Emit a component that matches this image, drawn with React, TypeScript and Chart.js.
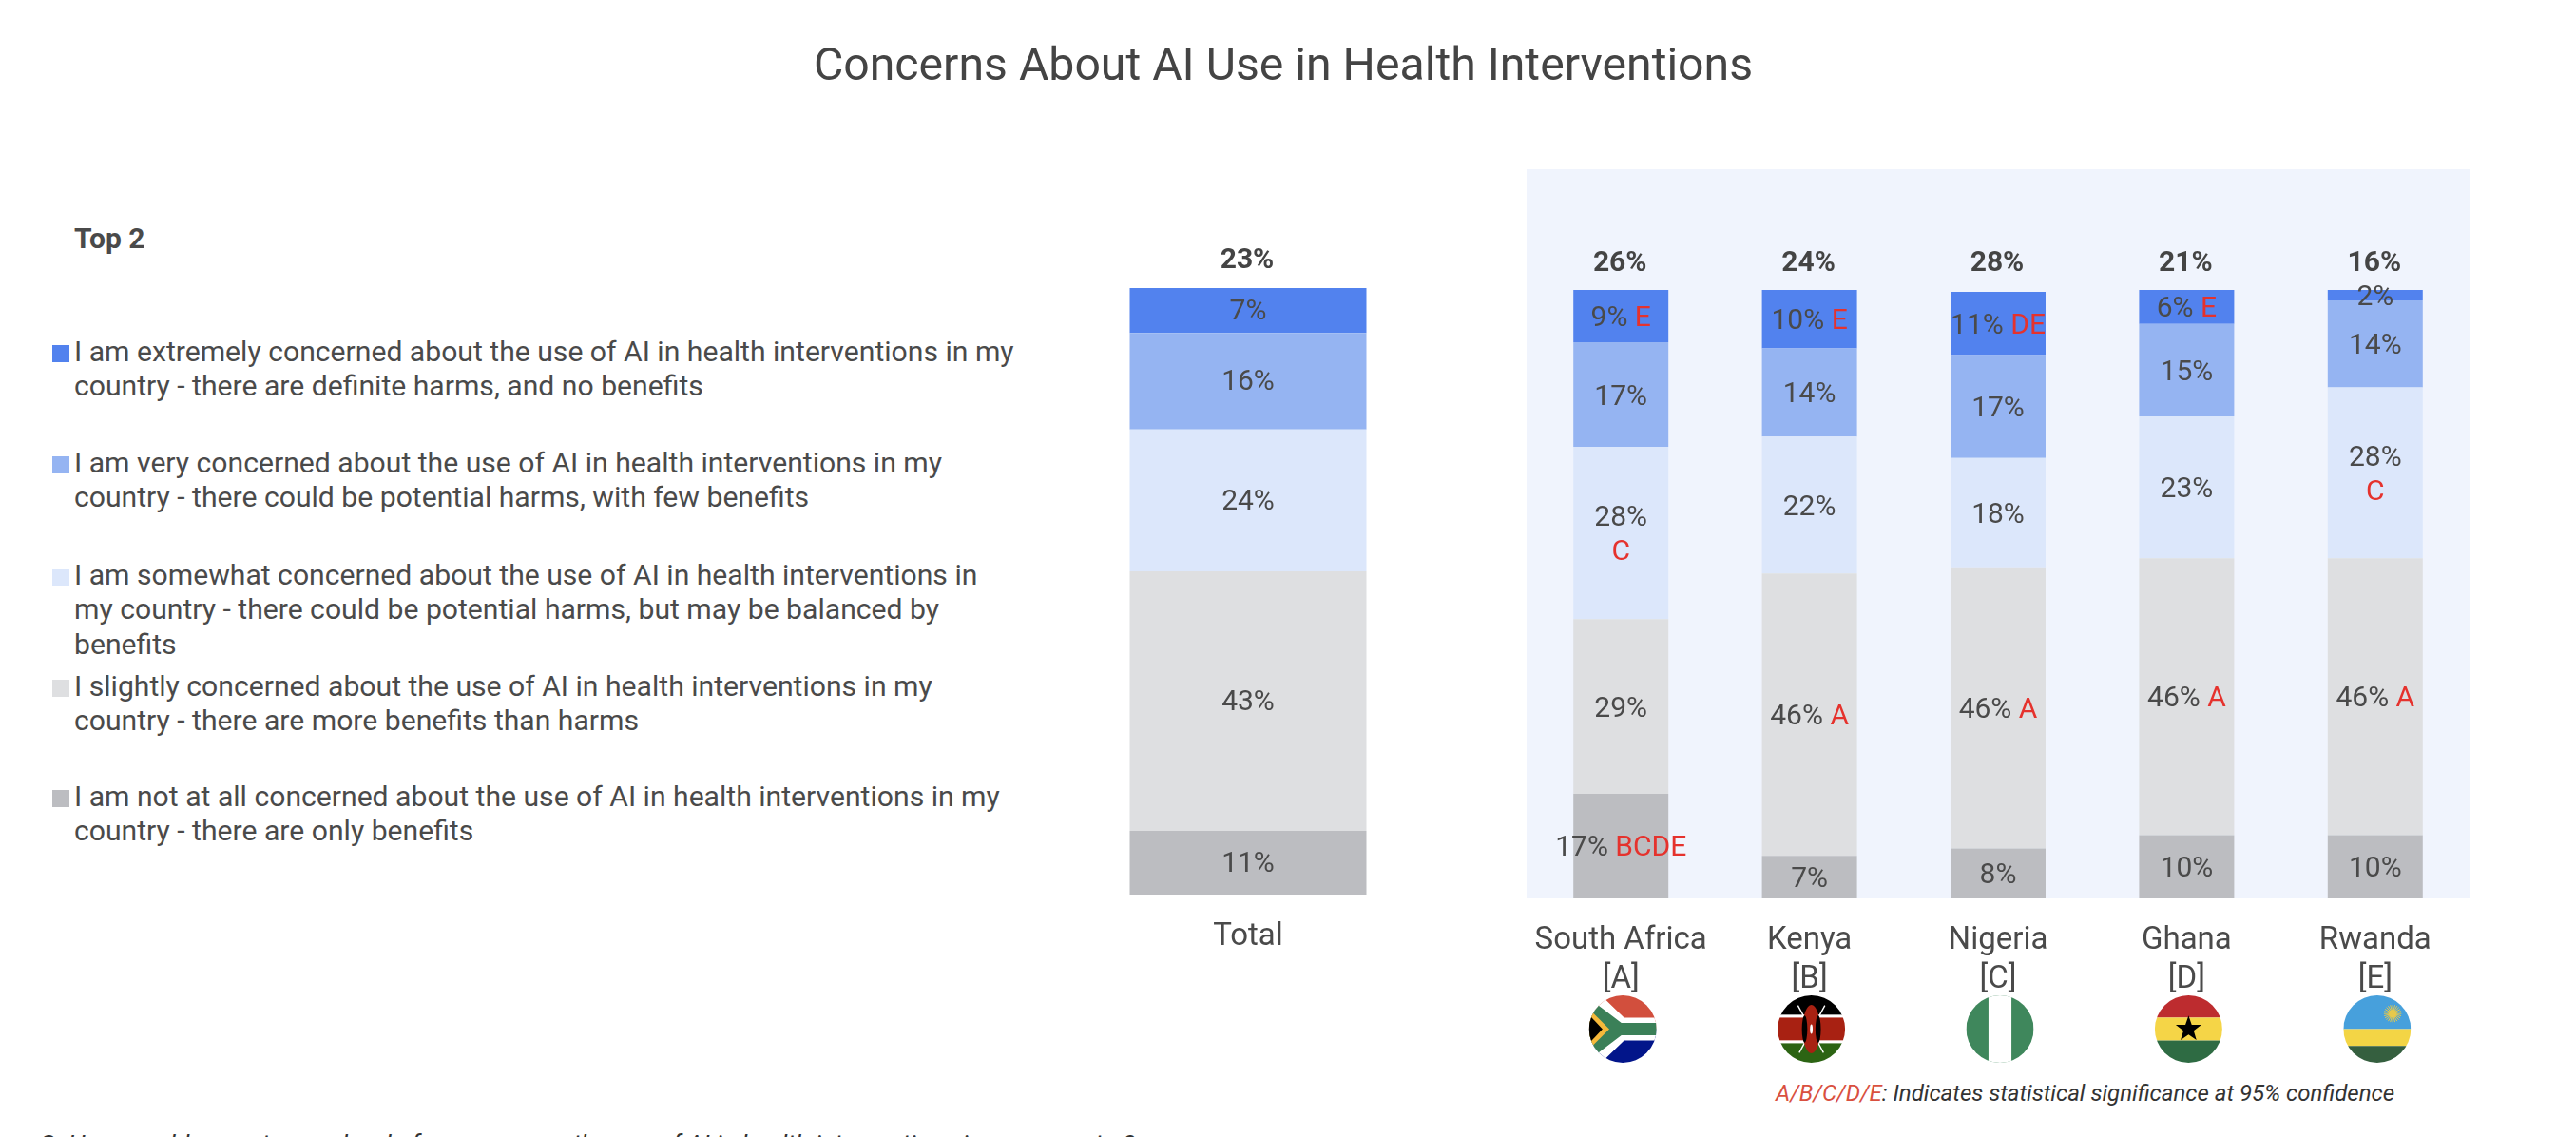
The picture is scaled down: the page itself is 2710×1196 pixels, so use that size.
import React, { useEffect, useRef } from "react";
import { Chart, registerables } from "chart.js";

Chart.register(...registerables);

const FONT = "Roboto, sans-serif";
const INK = "#4a4a4a";
const RED = "#e5322d";

const seriesColors = ["#bcbdc1", "#dedfe1", "#dce7fb", "#95b4f2", "#5282ee"];

// Series run bottom to top of the stack.
const seriesNames = ["Not at all", "Slightly", "Somewhat", "Very", "Extremely"];

const totalLabel = ["Total"];
const totalNotAtAll = [10.5];
const totalSlightly = [42.8];
const totalSomewhat = [23.4];
const totalVery = [15.9];
const totalExtremely = [7.4];
const totalPercentLabels = [["11%"], ["43%"], ["24%"], ["16%"], ["7%"]];
const totalTop2 = ["23%"];

const countries = [
  ["South Africa", "[A]"],
  ["Kenya", "[B]"],
  ["Nigeria", "[C]"],
  ["Ghana", "[D]"],
  ["Rwanda", "[E]"],
];
const notAtAll = [17.2, 7.0, 8.2, 10.4, 10.4];
const slightly = [28.7, 46.4, 46.2, 45.5, 45.5];
const somewhat = [28.3, 22.5, 18.0, 23.3, 28.1];
const very = [17.2, 14.5, 16.9, 15.2, 14.3];
const extremely = [8.6, 9.6, 10.4, 5.6, 1.7];

const notAtAllLabels = ["17%", "7%", "8%", "10%", "10%"];
const slightlyLabels = ["29%", "46%", "46%", "46%", "46%"];
const somewhatLabels = ["28%", "22%", "18%", "23%", "28%"];
const veryLabels = ["17%", "14%", "17%", "15%", "14%"];
const extremelyLabels = ["9%", "10%", "11%", "6%", "2%"];

const notAtAllSig = ["BCDE", "", "", "", ""];
const slightlySig = ["", "A", "A", "A", "A"];
const somewhatSig = ["C", "", "", "", "C"];
const verySig = ["", "", "", "", ""];
const extremelySig = ["E", "E", "DE", "E", ""];

const countryTop2 = ["26%", "24%", "28%", "21%", "16%"];

const title = "Concerns About AI Use in Health Interventions";
const legendHeading = "Top 2";
const legendLines = [
  ["I am extremely concerned about the use of AI in health interventions in my", "country - there are definite harms, and no benefits"],
  ["I am very concerned about the use of AI in health interventions in my", "country - there could be potential harms, with few benefits"],
  ["I am somewhat concerned about the use of AI in health interventions in", "my country - there could be potential harms, but may be balanced by", "benefits"],
  ["I slightly concerned about the use of AI in health interventions in my", "country - there are more benefits than harms"],
  ["I am not at all concerned about the use of AI in health interventions in my", "country - there are only benefits"],
];
const legendSwatches = ["#5282ee", "#95b4f2", "#dce7fb", "#dedfe1", "#bcbdc1"];
const legendTops = [352, 469, 587, 704, 820];

const footKey = "A/B/C/D/E";
const footText = ": Indicates statistical significance at 95% confidence";
const question = "Q: How would you rate your level of concern over the use of AI in health interventions in your country?";

const flagKeys = ["za", "ke", "ng", "gh", "rw"];

function segmentLabels(labels: string[][], sigs: string[][], top2: string[], labelShift: number, topGap: number) {
  return {
    id: "segmentLabels",
    afterDatasetsDraw(chart: any) {
      const ctx = chart.ctx;
      ctx.save();
      ctx.textBaseline = "middle";
      ctx.font = `400 30px ${FONT}`;
      chart.data.datasets.forEach((_: any, d: number) => {
        chart.getDatasetMeta(d).data.forEach((bar: any, i: number) => {
          const cy = (bar.y + bar.base) / 2 + labelShift;
          const txt = labels[d][i];
          const sig = sigs[d][i];
          if (!sig) {
            ctx.textAlign = "center";
            ctx.fillStyle = INK;
            ctx.fillText(txt, bar.x, cy);
          } else if (d === 2) {
            ctx.textAlign = "center";
            ctx.fillStyle = INK;
            ctx.fillText(txt, bar.x, cy - 18);
            ctx.fillStyle = RED;
            ctx.fillText(sig, bar.x, cy + 18);
          } else {
            const gap = ctx.measureText(" ").width;
            const a = ctx.measureText(txt).width;
            const b = ctx.measureText(sig).width;
            const x0 = bar.x - (a + gap + b) / 2;
            ctx.textAlign = "left";
            ctx.fillStyle = INK;
            ctx.fillText(txt, x0, cy);
            ctx.fillStyle = RED;
            ctx.fillText(sig, x0 + a + gap, cy);
          }
        });
      });
      ctx.font = `700 30px ${FONT}`;
      ctx.textAlign = "center";
      ctx.fillStyle = "#444444";
      const last = chart.getDatasetMeta(chart.data.datasets.length - 1).data;
      last.forEach((bar: any, i: number) => {
        ctx.fillText(top2[i], bar.x - 1, chart.chartArea.top - topGap);
      });
      ctx.restore();
    },
  };
}

const panelPlugin = {
  id: "panel",
  beforeDraw(chart: any) {
    const { ctx, chartArea: a } = chart;
    ctx.save();
    ctx.fillStyle = "#f0f4fd";
    ctx.fillRect(a.left, 8, a.right - a.left, a.bottom - 8);
    ctx.restore();
  },
};

function drawFlag(ctx: CanvasRenderingContext2D, key: string, cx: number, cy: number, r: number) {
  ctx.save();
  ctx.beginPath();
  ctx.arc(cx, cy, r, 0, Math.PI * 2);
  ctx.clip();
  const L = cx - r;
  const T = cy - r;
  const S = 2 * r;
  const band = (color: string, y0: number, y1: number) => {
    ctx.fillStyle = color;
    ctx.fillRect(L, T + y0 * S, S, (y1 - y0) * S);
  };
  const poly = (color: string, pts: number[][]) => {
    ctx.fillStyle = color;
    ctx.beginPath();
    pts.forEach((p, i) => {
      const x = L + p[0] * S;
      const y = T + p[1] * S;
      if (i) ctx.lineTo(x, y);
      else ctx.moveTo(x, y);
    });
    ctx.closePath();
    ctx.fill();
  };
  if (key === "za") {
    band("#d24f3d", 0, 0.5);
    band("#02158a", 0.5, 1);
    poly("#ffffff", [[0, 0.02], [0.2, 0.02], [0.52, 0.33], [1, 0.33], [1, 0.67], [0.52, 0.67], [0.2, 0.98], [0, 0.98]]);
    poly("#3b8058", [[0, 0.12], [0.1, 0.12], [0.48, 0.41], [1, 0.41], [1, 0.59], [0.48, 0.59], [0.1, 0.88], [0, 0.88]]);
    poly("#f6b93b", [[0, 0.2], [0.3, 0.5], [0, 0.8]]);
    poly("#000000", [[0, 0.29], [0.2, 0.5], [0, 0.71]]);
  } else if (key === "ke") {
    band("#000000", 0, 0.29);
    band("#ffffff", 0.29, 0.33);
    band("#a82112", 0.33, 0.67);
    band("#ffffff", 0.67, 0.71);
    band("#2c6413", 0.71, 1);
    ctx.strokeStyle = "#ffffff";
    ctx.lineWidth = 1.4;
    ctx.beginPath();
    ctx.moveTo(L + 0.3 * S, T + 0.15 * S);
    ctx.lineTo(L + 0.68 * S, T + 0.85 * S);
    ctx.moveTo(L + 0.7 * S, T + 0.15 * S);
    ctx.lineTo(L + 0.32 * S, T + 0.85 * S);
    ctx.stroke();
    ctx.fillStyle = "#a82112";
    ctx.beginPath();
    ctx.ellipse(cx, cy, 0.13 * S, 0.36 * S, 0, 0, Math.PI * 2);
    ctx.fill();
    ctx.fillStyle = "#000000";
    ctx.beginPath();
    ctx.ellipse(cx - 0.1 * S, cy, 0.04 * S, 0.2 * S, 0, 0, Math.PI * 2);
    ctx.ellipse(cx + 0.1 * S, cy, 0.04 * S, 0.2 * S, 0, 0, Math.PI * 2);
    ctx.fill();
    ctx.fillStyle = "#ffffff";
    ctx.beginPath();
    ctx.ellipse(cx, cy, 0.02 * S, 0.07 * S, 0, 0, Math.PI * 2);
    ctx.fill();
  } else if (key === "ng") {
    ctx.fillStyle = "#3f875c";
    ctx.fillRect(L, T, S, S);
    ctx.fillStyle = "#ffffff";
    ctx.fillRect(L + 0.33 * S, T, 0.34 * S, S);
  } else if (key === "gh") {
    band("#bd2c2f", 0, 0.33);
    band("#f5d547", 0.33, 0.67);
    band("#2e6b43", 0.67, 1);
    ctx.fillStyle = "#000000";
    ctx.beginPath();
    for (let i = 0; i < 10; i++) {
      const rad = i % 2 ? 0.08 * S : 0.2 * S;
      const ang = -Math.PI / 2 + (i * Math.PI) / 5;
      const x = cx + rad * Math.cos(ang);
      const y = cy + rad * Math.sin(ang);
      if (i) ctx.lineTo(x, y);
      else ctx.moveTo(x, y);
    }
    ctx.closePath();
    ctx.fill();
  } else {
    band("#47a0dc", 0, 0.5);
    band("#f3d545", 0.5, 0.75);
    band("#355f3f", 0.75, 1);
    ctx.strokeStyle = "#e6c94b";
    ctx.lineWidth = 1;
    const sx = L + 0.73 * S;
    const sy = T + 0.27 * S;
    ctx.beginPath();
    for (let i = 0; i < 24; i++) {
      const ang = (i * Math.PI) / 12;
      ctx.moveTo(sx, sy);
      ctx.lineTo(sx + 0.13 * S * Math.cos(ang), sy + 0.13 * S * Math.sin(ang));
    }
    ctx.stroke();
    ctx.fillStyle = "#e6c94b";
    ctx.beginPath();
    ctx.arc(sx, sy, 0.06 * S, 0, Math.PI * 2);
    ctx.fill();
  }
  ctx.restore();
}

const flagsPlugin = {
  id: "flags",
  afterDraw(chart: any) {
    const x = chart.scales.x;
    flagKeys.forEach((k, i) => {
      drawFlag(chart.ctx, k, x.getPixelForValue(i) + 2, chart.chartArea.bottom + 137.5, 35.5);
    });
  },
};

function baseOptions(axisHeight: number, paddingTop: number) {
  return {
    responsive: false,
    animation: false as const,
    layout: { padding: { top: paddingTop, left: 0, right: 0, bottom: 0 } },
    plugins: { legend: { display: false }, tooltip: { enabled: false }, title: { display: false } },
    scales: {
      x: {
        stacked: true,
        grid: { display: false, drawTicks: false },
        border: { display: false },
        afterFit: (s: any) => {
          s.height = axisHeight;
          s.paddingLeft = 0;
          s.paddingRight = 0;
        },
        ticks: {
          color: INK,
          padding: 25,
          autoSkip: false,
          maxRotation: 0,
          font: { family: FONT, size: 33, lineHeight: 1.22 },
        },
      },
      y: { stacked: true, display: false, min: 0, max: 100 },
    },
  };
}

function buildDatasets(rows: number[][], barPercentage: number) {
  return rows.map((data, i) => ({
    label: seriesNames[i],
    data,
    backgroundColor: seriesColors[i],
    borderWidth: 0,
    categoryPercentage: 1,
    barPercentage,
  }));
}

export default function App() {
  const totalRef = useRef<HTMLCanvasElement>(null);
  const countryRef = useRef<HTMLCanvasElement>(null);

  useEffect(() => {
    const totalChart = new Chart(totalRef.current!, {
      type: "bar",
      data: {
        labels: totalLabel,
        datasets: buildDatasets([totalNotAtAll, totalSlightly, totalSomewhat, totalVery, totalExtremely], 249 / 426),
      },
      options: baseOptions(59, 103) as any,
      plugins: [segmentLabels(totalPercentLabels, [[""], [""], [""], [""], [""]], totalTop2, 2, 29)],
    });
    const countryChart = new Chart(countryRef.current!, {
      type: "bar",
      data: {
        labels: countries as any,
        datasets: buildDatasets([notAtAll, slightly, somewhat, very, extremely], 0.504),
      },
      options: baseOptions(185, 135) as any,
      plugins: [
        panelPlugin,
        segmentLabels(
          [notAtAllLabels, slightlyLabels, somewhatLabels, veryLabels, extremelyLabels],
          [notAtAllSig, slightlySig, somewhatSig, verySig, extremelySig],
          countryTop2,
          3,
          28
        ),
        flagsPlugin,
      ],
    });
    return () => {
      totalChart.destroy();
      countryChart.destroy();
    };
  }, []);

  const abs = (left: number, top: number): React.CSSProperties => ({ position: "absolute", left, top });

  return (
    <div style={{ position: "absolute", left: 0, top: 0, width: 2710, height: 1196, overflow: "hidden", background: "#fff", fontFamily: FONT, color: INK }}>
      <div style={{ ...abs(0, 37), width: 2700, textAlign: "center", fontSize: 48.2, lineHeight: "62px", color: "#444", whiteSpace: "nowrap" }}>{title}</div>
      <div style={{ ...abs(78, 233), fontSize: 30, lineHeight: "36px", fontWeight: 700 }}>{legendHeading}</div>
      {legendLines.map((lines, i) => (
        <React.Fragment key={i}>
          <div style={{ ...abs(55, legendTops[i] + 11), width: 18, height: 18, background: legendSwatches[i] }} />
          <div style={{ ...abs(78, legendTops[i]), fontSize: 30.15, lineHeight: "36.3px", whiteSpace: "nowrap" }}>
            {lines.map((l, j) => (
              <div key={j}>{l}</div>
            ))}
          </div>
        </React.Fragment>
      ))}
      <canvas ref={totalRef} width={426} height={800} style={{ ...abs(1100, 200), display: "block" }} />
      <canvas ref={countryRef} width={992} height={960} style={{ ...abs(1606, 170), display: "block" }} />
      <div style={{ ...abs(1868, 1134), fontSize: 24, lineHeight: "32px", fontStyle: "italic", whiteSpace: "nowrap", color: "#333" }}>
        <span style={{ color: "#d9503f" }}>{footKey}</span>
        {footText}
      </div>
      <div style={{ ...abs(41, 1187), fontSize: 26.5, lineHeight: "32px", fontStyle: "italic", whiteSpace: "nowrap", color: "#333" }}>{question}</div>
    </div>
  );
}
